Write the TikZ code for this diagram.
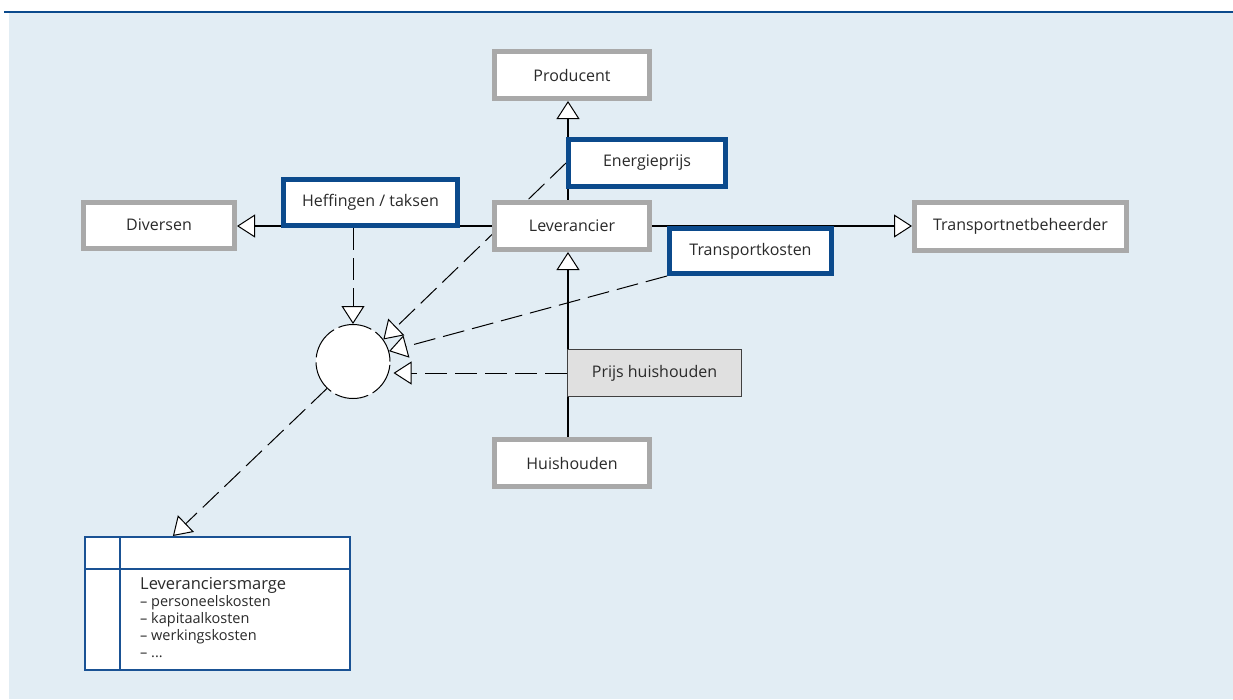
\documentclass[tikz,border=0pt]{standalone}
\usepackage{fontspec}
\setmainfont{Open Sans}
\usetikzlibrary{arrows.meta,calc}
\definecolor{bgblue}{HTML}{E2EDF4}
\definecolor{darkblue}{HTML}{0B4A8C}
\definecolor{tblblue}{HTML}{1A5294}
\definecolor{boxgray}{HTML}{A9A9A9}
\definecolor{prijsgray}{HTML}{E0E0E0}
\definecolor{txt}{HTML}{2A2A2A}
\pgfdeclarelayer{back}
\pgfsetlayers{back,main}
\begin{document}
\begin{tikzpicture}[x=1pt,y=-1pt,
  lbl/.style={font=\fontsize{16}{19}\selectfont, text=txt, inner sep=0pt},
  graybox/.style={lbl, draw=boxgray, line width=5pt, fill=white},
  bluebox/.style={lbl, draw=darkblue, line width=5pt, fill=white},
  conn/.style={line width=1.2pt, -{Triangle[fill=white,length=18pt 0 0,width=23pt 0,line width=1pt]}},
  dconn/.style={conn, line width=1pt, dash pattern=on 22pt off 8pt},
]
\useasboundingbox (0,0) rectangle (1233,699);
% nodes
\node[graybox, minimum width=155pt, minimum height=47pt] (prod) at (572,75) {Producent};
\node[graybox, minimum width=155pt, minimum height=47pt] (lev) at (572,226) {Leverancier};
\node[graybox, minimum width=155pt, minimum height=47pt] (hh) at (572,463) {Huishouden};
\node[graybox, minimum width=151pt, minimum height=46pt] (div) at (159,225) {Diversen};
\node[graybox, minimum width=212pt, minimum height=48pt] (tnb) at (1020.5,226.5) {Transportnetbeheerder};
\node[bluebox, minimum width=157pt, minimum height=47pt] (en) at (647,163) {Energieprijs};
\node[bluebox, minimum width=174pt, minimum height=46pt] (heff) at (370.5,202.5) {Heffingen / taksen};
\node[bluebox, minimum width=162pt, minimum height=45pt] (tk) at (750.5,251) {Transportkosten};
\node[lbl, draw=black!75, line width=1.2pt, fill=prijsgray, minimum width=174pt, minimum height=47pt] (ph) at (654.5,373) {Prijs huishouden};
\node[circle, draw, dash pattern=on 34pt off 5pt, fill=white, minimum size=74pt, inner sep=0pt, line width=1pt] (circ) at (353,361.5) {};
\node[draw=tblblue, line width=2pt, fill=white, minimum width=265pt, minimum height=133pt, inner sep=0pt] (tab) at (217.5,603.5) {};
\draw[tblblue, line width=2pt] ($(tab.north west)+(36,1)$) -- ($(tab.south west)+(36,-1)$);
\draw[tblblue, line width=2pt] ($(tab.north west)+(1,33)$) -- ($(tab.north east)+(-1,33)$);
\node[anchor=north west, align=left, inner sep=0pt, text=txt, font=\fontsize{14.5}{17}\selectfont] (marge) at (140,577)
  {{\fontsize{16.5}{17}\selectfont Leveranciersmarge}\\
   – personeelskosten\\
   – kapitaalkosten\\
   – werkingskosten\\
   – ...};
% background and connectors behind the boxes
\begin{pgfonlayer}{back}
\fill[bgblue] (9,13) rectangle (1233,699);
\draw[darkblue, line width=2pt] (4,12) -- (1233,12);
\coordinate (sp) at (568,0);
\draw[conn] (lev.north -| sp) -- (prod.south -| sp);
\draw[conn] (hh.north -| sp) -- (lev.south -| sp);
\draw[conn] (lev.west) -- (lev.west -| div.east);
\draw[conn] (lev.east) -- (lev.east -| tnb.west);
\draw[dconn] (heff.south -| circ.north) -- (circ.north);
\draw[dconn] (en.west) -- (circ.36);
\draw[dconn] (tk.south west) -- (circ.16);
\draw[dconn] (ph.west) -- ($(circ.east |- ph.west)+(3,0)$);
\draw[dconn] (circ.226) -- ($(tab.north west)!0.333!(tab.north east)$);
\end{pgfonlayer}
\end{tikzpicture}
\end{document}
